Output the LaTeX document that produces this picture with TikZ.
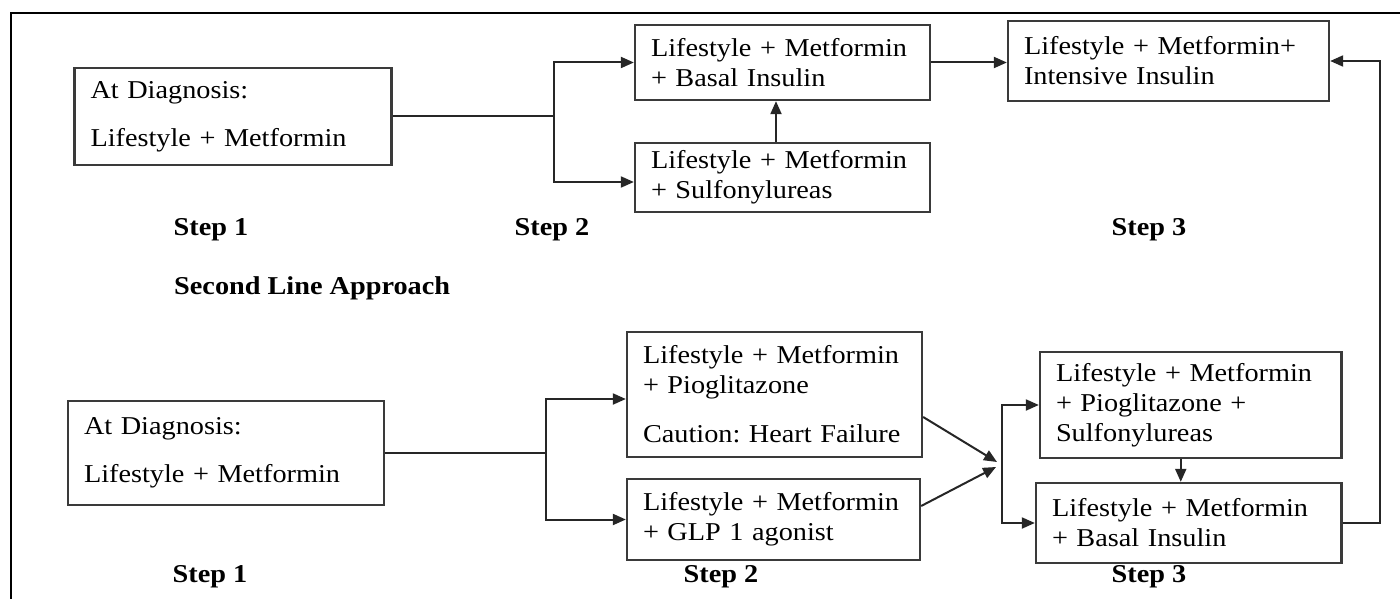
\documentclass[tikz,border=0pt]{standalone}
\usepackage{fontspec}
\setmainfont{Liberation Serif}[FakeStretch=1.1]
\usetikzlibrary{arrows.meta}
\definecolor{boxgray}{HTML}{3A3A3A}
\frenchspacing
\begin{document}
\begin{tikzpicture}[x=1pt,y=-1pt,
  every node/.style={font=\fontsize{25.7}{30}\selectfont, text=black},
  boxnode/.style={draw=boxgray, line width=2.3pt, inner xsep=16pt, inner ysep=0pt, align=left, anchor=center},
  steplabel/.style={font=\fontsize{25.7}{30}\selectfont\bfseries, inner sep=0pt},
  arr/.style={line width=2pt, draw=black!85, -{Triangle[length=13pt,width=11pt]}},
  conn/.style={line width=2pt, draw=black!85}]
\useasboundingbox (0,0) rectangle (1400,599);
\draw[line width=2.5pt] (1400,13) -- (11,13) -- (11,599);

% top row
\node[boxnode, minimum width=317pt, minimum height=97pt, text width=285pt] (A1) at (233,116.5)
  {At Diagnosis:\\[18pt]Lifestyle + Metformin};
\node[boxnode, minimum width=295pt, minimum height=75pt, text width=263pt] (B1) at (782.5,62.5)
  {Lifestyle + Metformin\\+ Basal Insulin};
\node[boxnode, minimum width=295pt, minimum height=69pt, text width=263pt] (B2) at (782.5,177.5)
  {Lifestyle + Metformin\\+ Sulfonylureas};
\node[boxnode, minimum width=321pt, minimum height=80pt, text width=289pt] (C) at (1168.5,61)
  {Lifestyle + Metformin+\\Intensive Insulin};

\node[steplabel] (s1t) at (211,230) {Step 1};
\node[steplabel] (s2t) at (552,230) {Step 2};
\node[steplabel] (s3t) at (1149,230) {Step 3};
\node[steplabel, anchor=west] (sla) at (174,288) {Second Line Approach};

% bottom row
\node[boxnode, minimum width=316pt, minimum height=104pt, text width=284pt] (A2) at (226,453)
  {At Diagnosis:\\[18pt]Lifestyle + Metformin};
\node[boxnode, minimum width=295pt, minimum height=125pt, text width=263pt] (D1) at (774.5,394.5)
  {Lifestyle + Metformin\\+ Pioglitazone\\[19pt]Caution: Heart Failure};
\node[boxnode, minimum width=293pt, minimum height=81pt, text width=261pt] (D2) at (773.5,519.5)
  {Lifestyle + Metformin\\+ GLP 1 agonist};
\node[boxnode, minimum width=301.5pt, minimum height=106pt, text width=269.5pt] (E1) at (1190.75,405)
  {Lifestyle + Metformin\\+ Pioglitazone +\\Sulfonylureas};
\node[boxnode, minimum width=305.5pt, minimum height=80pt, text width=273.5pt] (E2) at (1188.75,523)
  {Lifestyle + Metformin\\+ Basal Insulin};

\node[steplabel] (s1b) at (210,577) {Step 1};
\node[steplabel] (s2b) at (721,577) {Step 2};
\node[steplabel] (s3b) at (1149,577) {Step 3};

% top connectors
\coordinate (j1) at (553.6,117);
\draw[conn] (A1.east) -- (A1.east -| j1);
\draw[arr] (j1) |- (B1.west);
\draw[arr] (j1) |- ([yshift=-4.5pt]B2.west);
\draw[arr] ([xshift=-6.5pt]B2.north) -- ([xshift=-6.5pt]B1.south);
\draw[arr] (B1.east) -- (B1.east -| C.west);

% bottom connectors
\coordinate (j2) at (545.5,453);
\draw[conn] (A2.east) -- (A2.east -| j2);
\draw[arr] (j2) |- ([yshift=-4.5pt]D1.west);
\draw[arr] (j2) |- (D2.west);
\coordinate (mt) at (997,462);
\coordinate (mb) at (996,467);
\draw[arr] ([yshift=-22.5pt]D1.east) -- (mt);
\draw[arr] ([yshift=13.5pt]D2.east) -- (mb);
\coordinate (j3t) at (1002,405);
\draw[arr] (E2.west -| j3t) |- (E1.west);
\draw[arr] (E1.west -| j3t) |- (E2.west);
\draw[arr] ([xshift=-10pt]E1.south) -- ([xshift=-10pt]E1.south |- E2.north);
\coordinate (rt) at (1380,61);
\draw[arr] (E2.east) -| (rt) -- (C.east);
\end{tikzpicture}
\end{document}
